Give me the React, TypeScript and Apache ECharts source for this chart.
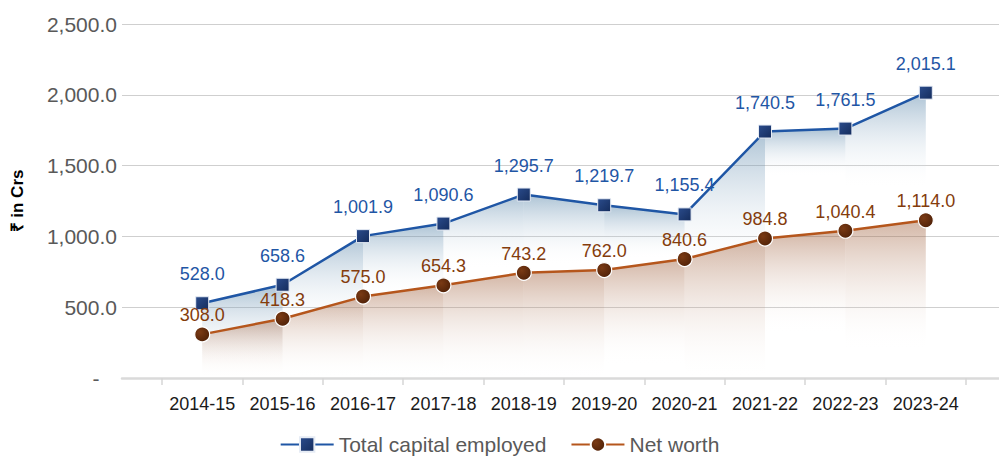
import React, { useEffect, useRef } from "react";
import * as echarts from "echarts";

const categories = ["2014-15", "2015-16", "2016-17", "2017-18", "2018-19", "2019-20", "2020-21", "2021-22", "2022-23", "2023-24"];
const totalCapitalEmployed = [528.0, 658.6, 1001.9, 1090.6, 1295.7, 1219.7, 1155.4, 1740.5, 1761.5, 2015.1];
const netWorth = [308.0, 418.3, 575.0, 654.3, 743.2, 762.0, 840.6, 984.8, 1040.4, 1114.0];
const yMin = 0;
const yMax = 2500;
const yInterval = 500;

const FONT = "'Liberation Sans', Arial, sans-serif";

const fmt = (v: number) =>
  v.toLocaleString("en-US", { minimumFractionDigits: 1, maximumFractionDigits: 1 });

function segmentArea(
  name: string,
  values: number[],
  topColor: string,
  depthEven: number,
  depthOdd: number
) {
  const data = values.slice(0, -1).map((v, i) => [i, v, values[i + 1]]);
  return {
    type: "custom",
    name,
    xAxisIndex: 1,
    yAxisIndex: 1,
    silent: true,
    z: 1,
    encode: { x: 0, y: [1, 2] },
    data,
    renderItem: (params: any, api: any) => {
      const i = api.value(0);
      const p1 = api.coord([i, api.value(1)]);
      const p2 = api.coord([i + 1, api.value(2)]);
      const base = api.coord([i, 0])[1];
      const top = Math.min(p1[1], p2[1]);
      const depth = i % 2 === 0 ? depthEven : depthOdd;
      const bottom = Math.min(base, Math.max(p1[1], p2[1]) + depth);
      return {
        type: "polygon",
        shape: { points: [p1, p2, [p2[0], bottom], [p1[0], bottom]] },
        style: {
          fill: new echarts.graphic.LinearGradient(
            0,
            top,
            0,
            bottom,
            [
              { offset: 0, color: topColor },
              { offset: 1, color: "rgba(255,255,255,0)" },
            ],
            true
          ),
        },
      };
    },
  };
}

export default function App() {
  const ref = useRef<HTMLDivElement>(null);

  useEffect(() => {
    if (!ref.current) return;
    const chart = echarts.init(ref.current, null, { renderer: "svg" });
    const blueMarker = new echarts.graphic.LinearGradient(0, 0, 1, 1, [
      { offset: 0, color: "#2B4C8C" },
      { offset: 1, color: "#142C5C" },
    ]);
    const brownMarker = new echarts.graphic.RadialGradient(0.35, 0.35, 0.8, [
      { offset: 0, color: "#7A3A14" },
      { offset: 1, color: "#4A1E06" },
    ]);
    chart.setOption({
      animation: false,
      textStyle: { fontFamily: FONT },
      grid: [
        { left: 122, right: 0, top: 24, bottom: 79 },
        { left: 162, right: 33, top: 24, bottom: 79 },
      ],
      legend: {
        data: ["Total capital employed", "Net worth"],
        top: 429,
        left: "center",
        itemWidth: 53,
        itemHeight: 18,
        itemGap: 24,
        textStyle: { fontSize: 21, color: "#595959", fontFamily: FONT },
      },
      xAxis: [
        {
          gridIndex: 0,
          type: "category",
          data: categories,
          axisLine: { show: true, lineStyle: { color: "#DADADA", width: 2.5 } },
          axisTick: { show: false },
          axisLabel: { show: false },
          splitLine: { show: false },
        },
        {
          gridIndex: 1,
          type: "category",
          data: categories,
          boundaryGap: true,
          axisLine: { show: false },
          axisTick: { show: true, interval: 0, length: 7, lineStyle: { color: "#D6D6D6", width: 1.5 } },
          axisLabel: { interval: 0, fontSize: 18, color: "#1A1A1A", margin: 17, fontFamily: FONT },
          splitLine: { show: false },
        },
      ],
      yAxis: [
        {
          gridIndex: 0,
          type: "value",
          min: yMin,
          max: yMax,
          interval: yInterval,
          name: "₹ in Crs",
          nameLocation: "middle",
          nameRotate: 90,
          nameGap: 96,
          nameTextStyle: { fontWeight: "bold", fontSize: 17, color: "#000", fontFamily: FONT },
          axisLine: { show: false },
          axisTick: { show: false },
          axisLabel: {
            fontSize: 21,
            color: "#595959",
            margin: 5,
            fontFamily: FONT,
            formatter: (v: number) => (v === 0 ? "-\u00a0\u00a0\u00a0" : fmt(v)),
          },
          splitLine: { lineStyle: { color: "#CFCFCF", width: 1.2 } },
        },
        {
          gridIndex: 1,
          type: "value",
          min: yMin,
          max: yMax,
          interval: yInterval,
          show: false,
          splitLine: { show: false },
        },
      ],
      series: [
        segmentArea("tceArea", totalCapitalEmployed, "rgba(70,120,160,0.45)", 60, 45),
        segmentArea("nwArea", netWorth, "rgba(150,80,40,0.42)", 120, 95),
        {
          type: "line",
          name: "Total capital employed",
          xAxisIndex: 1,
          yAxisIndex: 1,
          data: totalCapitalEmployed,
          z: 3,
          symbol: "rect",
          symbolSize: 13,
          lineStyle: { color: "#1F56A5", width: 2.5 },
          itemStyle: { color: blueMarker, borderColor: "#E6ECF5", borderWidth: 1 },
          label: {
            show: true,
            position: "top",
            distance: 13,
            fontSize: 18,
            color: "#1F56A5",
            fontFamily: FONT,
            formatter: (p: any) => fmt(p.value),
          },
        },
        {
          type: "line",
          name: "Net worth",
          xAxisIndex: 1,
          yAxisIndex: 1,
          data: netWorth,
          z: 3,
          symbol: "circle",
          symbolSize: 15,
          lineStyle: { color: "#B5561C", width: 2.5 },
          itemStyle: { color: brownMarker, borderColor: "#FFFFFF", borderWidth: 1.2 },
          label: {
            show: true,
            position: "top",
            distance: 2,
            fontSize: 18,
            color: "#843C0C",
            fontFamily: FONT,
            formatter: (p: any) => fmt(p.value),
          },
        },
      ],
    });
    return () => chart.dispose();
  }, []);

  return <div ref={ref} style={{ width: 999, height: 457, position: "absolute", left: 0, top: 0 }} />;
}
